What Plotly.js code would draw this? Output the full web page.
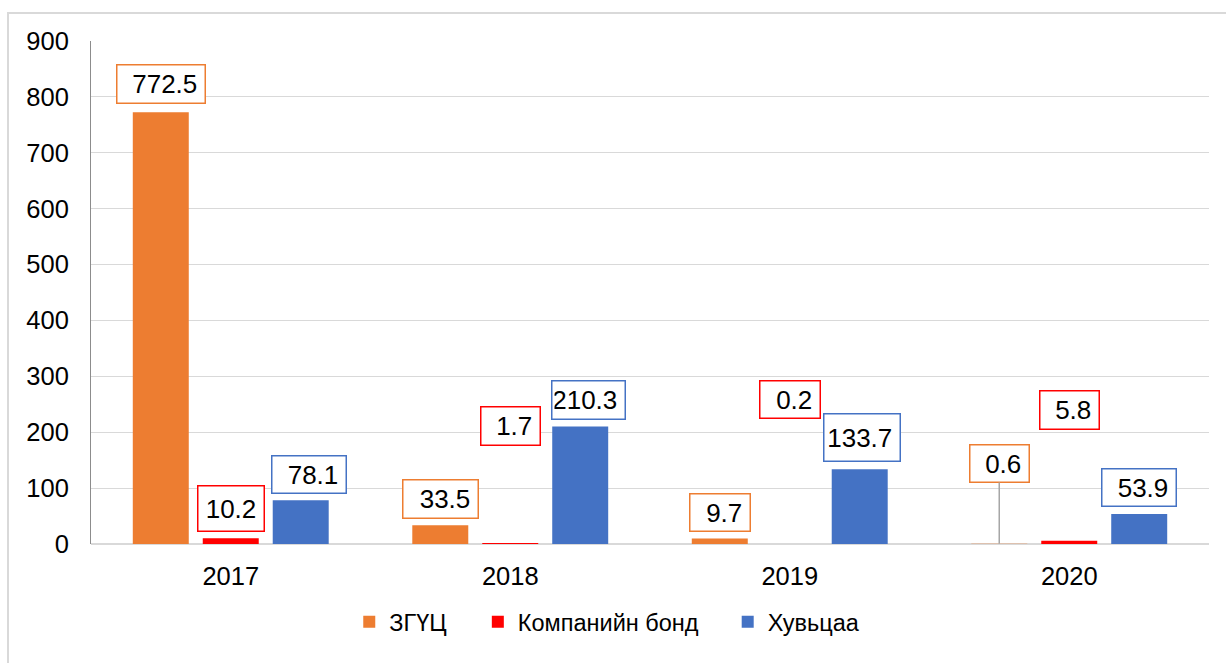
<!DOCTYPE html>
<html>
<head>
<meta charset="utf-8">
<script src="https://cdn.plot.ly/plotly-3.0.1.min.js"></script>
<style>
  html, body { margin: 0; padding: 0; background: #ffffff; }
  #frame { position: absolute; left: 7px; top: 12px; width: 1230px; height: 660px;
           border-left: 2px solid #d9d9d9; border-top: 2px solid #d9d9d9; }
  #chart { position: absolute; left: 0; top: 0; width: 1226px; height: 663px; }
</style>
</head>
<body>
<div id="frame"></div>
<div id="chart"></div>
<script>
// ---- data ----
const years = ['2017', '2018', '2019', '2020'];
const seriesNames = ['ЗГҮЦ', 'Компанийн бонд', 'Хувьцаа'];
const zguts = [772.5, 33.5, 9.7, 0.6];
const bond = [10.2, 1.7, 0.2, 5.8];
const stock = [78.1, 210.3, 133.7, 53.9];
const yTicks = [0, 100, 200, 300, 400, 500, 600, 700, 800, 900];

// ---- styles ----
const colors = ['#ED7D31', '#FF0000', '#4472C4'];
// label placement (pixels above bar top), per series per year
const labelLift = [
  [28, 26, 26, 80],
  [30, 117, 144, 131],
  [26, 26.5, 32, 26]
];
const labelNudge = [
  [0, 0, 0, 0],
  [0, 0, 0, 0],
  [8, 8, 2, 0]
];
const boxW = [
  [90, 77, 62, 61],
  [68, 61, 62, 61],
  [76, 75, 78, 76]
];
const boxH = [
  [40, 40, 39, 39],
  [47, 40, 39, 40],
  [39, 40, 49, 39]
];
const slotPx = 70;
const legendX = [0.231, 0.346, 0.5695];   // paper fractions for the three legend entries
const legendIds = ['legend', 'legend2', 'legend3'];

const allSeries = [zguts, bond, stock];

const traces = allSeries.map((vals, i) => ({
  type: 'bar',
  name: seriesNames[i],
  legend: legendIds[i],
  x: years,
  y: vals,
  marker: { color: colors[i] },
  hoverinfo: 'x+y+name'
}));

const annotations = [];
allSeries.forEach((vals, i) => {
  vals.forEach((v, j) => {
    const leader = labelLift[i][j] > 60 && i === 0;
    annotations.push({
      x: j,               // category index of years[j]
      y: v,
      xref: 'x', yref: 'y',
      xshift: (i - 1) * slotPx,
      text: v.toFixed(1) + '\u2009',
      showarrow: true,
      arrowhead: 0,
      arrowwidth: leader ? 1.5 : 0.1,
      arrowcolor: leader ? '#a6a6a6' : 'rgba(0,0,0,0)',
      standoff: 0,
      ax: labelNudge[i][j],
      ay: -labelLift[i][j],
      font: { family: 'Liberation Sans, Arial, sans-serif', size: 26, color: '#000000' },
      bgcolor: '#ffffff',
      bordercolor: colors[i],
      borderwidth: 1.5,
      borderpad: 2,
      width: boxW[i][j] - 7,
      height: boxH[i][j] - 7,
      align: 'right',
      valign: 'middle'
    });
  });
});

const legendBase = {
  orientation: 'h',
  xanchor: 'left',
  y: -0.155, yanchor: 'middle',
  font: { size: 23.5, color: '#000000' },
  itemwidth: 30,
  bgcolor: 'rgba(0,0,0,0)'
};

const layout = {
  width: 1226,
  height: 663,
  margin: { l: 91, r: 17, t: 41, b: 119 },
  paper_bgcolor: 'rgba(0,0,0,0)',
  plot_bgcolor: 'rgba(0,0,0,0)',
  font: { family: 'Liberation Sans, Arial, sans-serif', size: 24, color: '#000000' },
  barmode: 'group',
  bargap: 0.249,
  bargroupgap: 0.2,
  showlegend: true,
  legend: Object.assign({}, legendBase, { x: legendX[0] }),
  legend2: Object.assign({}, legendBase, { x: legendX[1] }),
  legend3: Object.assign({}, legendBase, { x: legendX[2] }),
  xaxis: {
    type: 'category',
    categoryorder: 'array',
    categoryarray: years,
    range: [-0.5, years.length - 0.5],
    autorange: false,
    showgrid: false,
    showline: false,
    zeroline: false,
    ticks: '',
    ticklabelstandoff: 14,
    tickfont: { size: 25.5, color: '#000000' }
  },
  yaxis: {
    range: [0, 900],
    autorange: false,
    tickvals: yTicks,
    ticktext: yTicks.map(String),
    showgrid: true,
    gridcolor: '#d9d9d9',
    gridwidth: 1,
    zeroline: true,
    zerolinecolor: '#d9d9d9',
    zerolinewidth: 2,
    showline: true,
    linecolor: '#8c8c8c',
    linewidth: 1,
    ticks: '',
    ticklabelstandoff: 16,
    tickfont: { size: 25.5, color: '#000000' }
  },
  annotations: annotations
};

Plotly.newPlot('chart', traces, layout, { displayModeBar: false, staticPlot: true });
</script>
</body>
</html>
